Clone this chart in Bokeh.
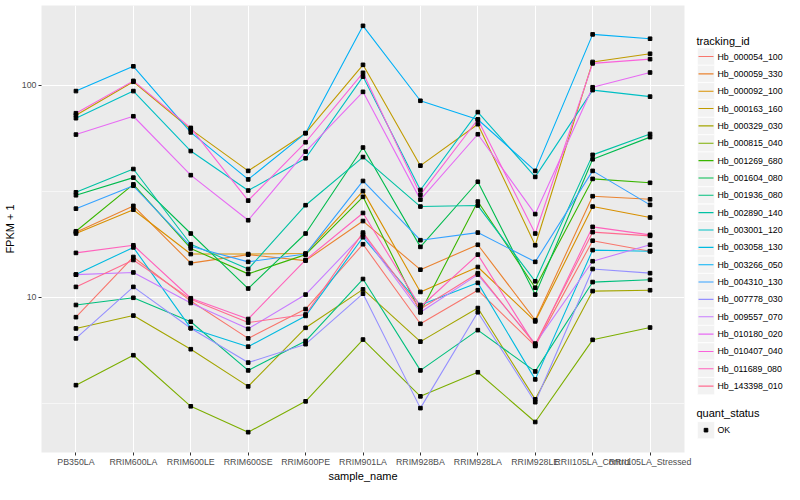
import math
from bokeh.plotting import figure
from bokeh.models import FixedTicker, Range1d, FactorRange, NumeralTickFormatter
from bokeh.layouts import row
from bokeh.core.properties import value
from bokeh.embed import file_html
from bokeh.resources import INLINE

samples = ["PB350LA", "RRIM600LA", "RRIM600LE", "RRIM600SE", "RRIM600PE", "RRIM901LA",
           "RRIM928BA", "RRIM928LA", "RRIM928LE", "RRII105LA_Control", "RRII105LA_Stressed"]

tracking_ids = ["Hb_000054_100", "Hb_000059_330", "Hb_000092_100", "Hb_000163_160", "Hb_000329_030",
                "Hb_000815_040", "Hb_001269_680", "Hb_001604_080", "Hb_001936_080", "Hb_002890_140",
                "Hb_003001_120", "Hb_003058_130", "Hb_003266_050", "Hb_004310_130", "Hb_007778_030",
                "Hb_009557_070", "Hb_010180_020", "Hb_010407_040", "Hb_011689_080", "Hb_143398_010"]

# FPKM + 1 per sample
hb_000054_100 = [8.06, 15.5, 9.6, 6.4, 8.8, 17.8, 7.5, 10.8, 5.9, 18.5, 16.5]
hb_000059_330 = [20.3, 27.0, 14.5, 15.9, 14.9, 22.9, 13.5, 17.7, 7.8, 30.0, 29.0]
hb_000092_100 = [20.0, 25.9, 16.0, 16.0, 16.1, 31.7, 10.6, 13.9, 7.7, 26.8, 23.8]
hb_000163_160 = [72.3, 104, 62, 39.5, 59.5, 125, 41.8, 65.6, 17.6, 129, 141]
hb_000329_030 = [7.13, 8.2, 5.69, 3.8, 7.18, 10.9, 6.18, 8.9, 3.3, 10.7, 10.8]
hb_000815_040 = [3.85, 5.33, 3.06, 2.31, 3.23, 6.32, 3.41, 4.43, 2.58, 6.3, 7.2]
hb_001269_680 = [20.5, 34.1, 17.0, 12.9, 15.9, 29.8, 8.5, 28.3, 11.1, 36.2, 34.7]
hb_001604_080 = [30.3, 36.7, 20.0, 11.0, 20.0, 50.9, 17.3, 35.1, 10.3, 44.8, 57.0]
hb_001936_080 = [9.2, 9.95, 7.67, 4.52, 6.22, 12.2, 4.52, 7.0, 4.47, 11.8, 12.1]
hb_002890_140 = [31.3, 40.3, 17.8, 13.6, 27.2, 45.9, 26.8, 27.1, 11.9, 47.0, 59.0]
hb_003001_120 = [70, 94, 49, 31.9, 45.3, 110, 32.1, 74.8, 37, 95, 88.5]
hb_003058_130 = [12.8, 17.2, 7.15, 5.85, 8.17, 19.2, 9.2, 11.7, 4.1, 16.7, 16.5]
hb_003266_050 = [94, 123, 60, 36, 59.5, 191, 84.6, 69, 39.5, 174, 166]
hb_004310_130 = [26.2, 33.6, 17.4, 14.7, 16.0, 35.4, 18.6, 20.2, 14.7, 39.5, 27.3]
hb_007778_030 = [6.4, 11.2, 7.15, 4.92, 6.01, 10.4, 3.0, 8.5, 3.2, 13.6, 13.0]
hb_009557_070 = [12.8, 13.1, 9.4, 7.1, 10.3, 19.8, 8.5, 12.8, 6.05, 14.8, 17.7]
hb_010180_020 = [58.6, 71.5, 37.7, 23.1, 48.7, 93.2, 28.9, 58.8, 24.7, 98, 115]
hb_010407_040 = [73.9, 105, 63, 28.6, 53.9, 114.6, 30.5, 69, 20.0, 127, 133]
hb_011689_080 = [16.2, 17.6, 9.9, 7.9, 15.0, 25.0, 9.0, 15.9, 5.9, 21.5, 19.7]
hb_143398_010 = [11.2, 15.0, 9.8, 7.6, 8.3, 20.2, 8.8, 13.0, 6.0, 20.3, 19.5]

quant_status = ["OK"]

series = [hb_000054_100, hb_000059_330, hb_000092_100, hb_000163_160, hb_000329_030,
          hb_000815_040, hb_001269_680, hb_001604_080, hb_001936_080, hb_002890_140,
          hb_003001_120, hb_003058_130, hb_003266_050, hb_004310_130, hb_007778_030,
          hb_009557_070, hb_010180_020, hb_010407_040, hb_011689_080, hb_143398_010]

palette = ["#F8766D", "#EA8331", "#D89000", "#C09B00", "#A3A500", "#7CAE00", "#39B600", "#00BB4E",
           "#00BF7D", "#00C1A3", "#00BFC4", "#00BAE0", "#00B0F6", "#35A2FF", "#9590FF", "#C77CFF",
           "#E76BF3", "#FA62DB", "#FF62BC", "#FF6C91"]

FONT = "Liberation Sans"
H = 484
TOP = 5

allv = [v for s in series for v in s]
lo, hi = math.log10(min(allv)), math.log10(max(allv))
pad = 0.05 * (hi - lo)

p = figure(x_range=FactorRange(*samples, range_padding=0.1, range_padding_units="absolute"),
           y_axis_type="log", y_range=Range1d(10 ** (lo - pad), 10 ** (hi + pad)),
           width=692, height=H, title=None,
           min_border_left=40, min_border_right=8, min_border_top=TOP, min_border_bottom=0,
           output_backend="svg", toolbar_location=None)
p.background_fill_color = "#EBEBEB"
p.border_fill_color = "white"
p.outline_line_color = None

p.xgrid.grid_line_color = "white"
p.xgrid.grid_line_width = 1.1
p.ygrid.grid_line_color = "white"
p.ygrid.grid_line_width = 1.1
p.ygrid.minor_grid_line_color = "white"
p.ygrid.minor_grid_line_width = 0.55

p.yaxis.ticker = FixedTicker(ticks=[10, 100], minor_ticks=[10 ** 0.5, 10 ** 1.5])
p.yaxis.formatter = NumeralTickFormatter(format="0")
p.axis.minor_tick_line_color = None
p.axis.axis_line_color = None
p.axis.major_tick_line_color = "#333333"
p.axis.major_tick_out = 3
p.axis.major_tick_in = 0
p.axis.major_label_text_font = FONT
p.axis.major_label_text_font_size = "8.8px"
p.axis.major_label_text_color = "#4D4D4D"
p.axis.major_label_standoff = 1
p.axis.axis_label_text_font = FONT
p.axis.axis_label_text_font_size = "11px"
p.axis.axis_label_text_font_style = "normal"
p.axis.axis_label_text_color = "black"
p.xaxis.axis_label_standoff = 0
p.yaxis.axis_label_standoff = 3
p.xaxis.axis_label = "sample_name"
p.yaxis.axis_label = "FPKM + 1"

for vals, col in zip(series, palette):
    p.line(samples, vals, line_color=col, line_width=1.1)
for vals in series:
    p.scatter(samples, vals, marker="square", size=3.6, color="black")

# legend panel (data units = page pixels: x from legend's left edge, y from page top)
LW = 92
lg = figure(frame_width=LW, frame_height=H - TOP, x_range=Range1d(0, LW), y_range=Range1d(H, TOP),
            title=None, min_border=0, min_border_top=TOP, x_axis_location=None, y_axis_location=None,
            output_backend="svg", toolbar_location=None)
lg.grid.visible = False
lg.outline_line_color = None
lg.background_fill_color = "white"
lg.border_fill_color = "white"

step = 17.35
y0 = 56
ys = [y0 + i * step for i in range(len(tracking_ids))]
lg.text(x=[4], y=[y0 - 15.5], text=["tracking_id"], text_baseline="middle",
        text_font=value(FONT), text_font_size="11px", text_color="black")
lg.rect(x=[13.5] * len(ys), y=ys, width=17, height=17, fill_color="#F2F2F2", line_color="white", line_width=0.6)
lg.segment(x0=[6] * len(ys), x1=[21] * len(ys), y0=ys, y1=ys, line_color=palette, line_width=1.1)
lg.text(x=[25] * len(ys), y=ys, text=tracking_ids, text_baseline="middle",
        text_font=value(FONT), text_font_size="8.8px", text_color="black")

qy = ys[-1] + 35
lg.text(x=[4], y=[qy - 8.5], text=["quant_status"], text_baseline="middle",
        text_font=value(FONT), text_font_size="11px", text_color="black")
ky = [qy + 9 + i * step for i in range(len(quant_status))]
lg.rect(x=[13.5] * len(ky), y=ky, width=17, height=17, fill_color="#F2F2F2", line_color="white", line_width=0.6)
lg.scatter(x=[13.5] * len(ky), y=ky, marker="square", size=3.6, color="black")
lg.text(x=[25] * len(ky), y=ky, text=quant_status, text_baseline="middle",
        text_font=value(FONT), text_font_size="8.8px", text_color="black")

layout = row(p, lg)
open("out.html", "w").write(file_html(layout, INLINE))
